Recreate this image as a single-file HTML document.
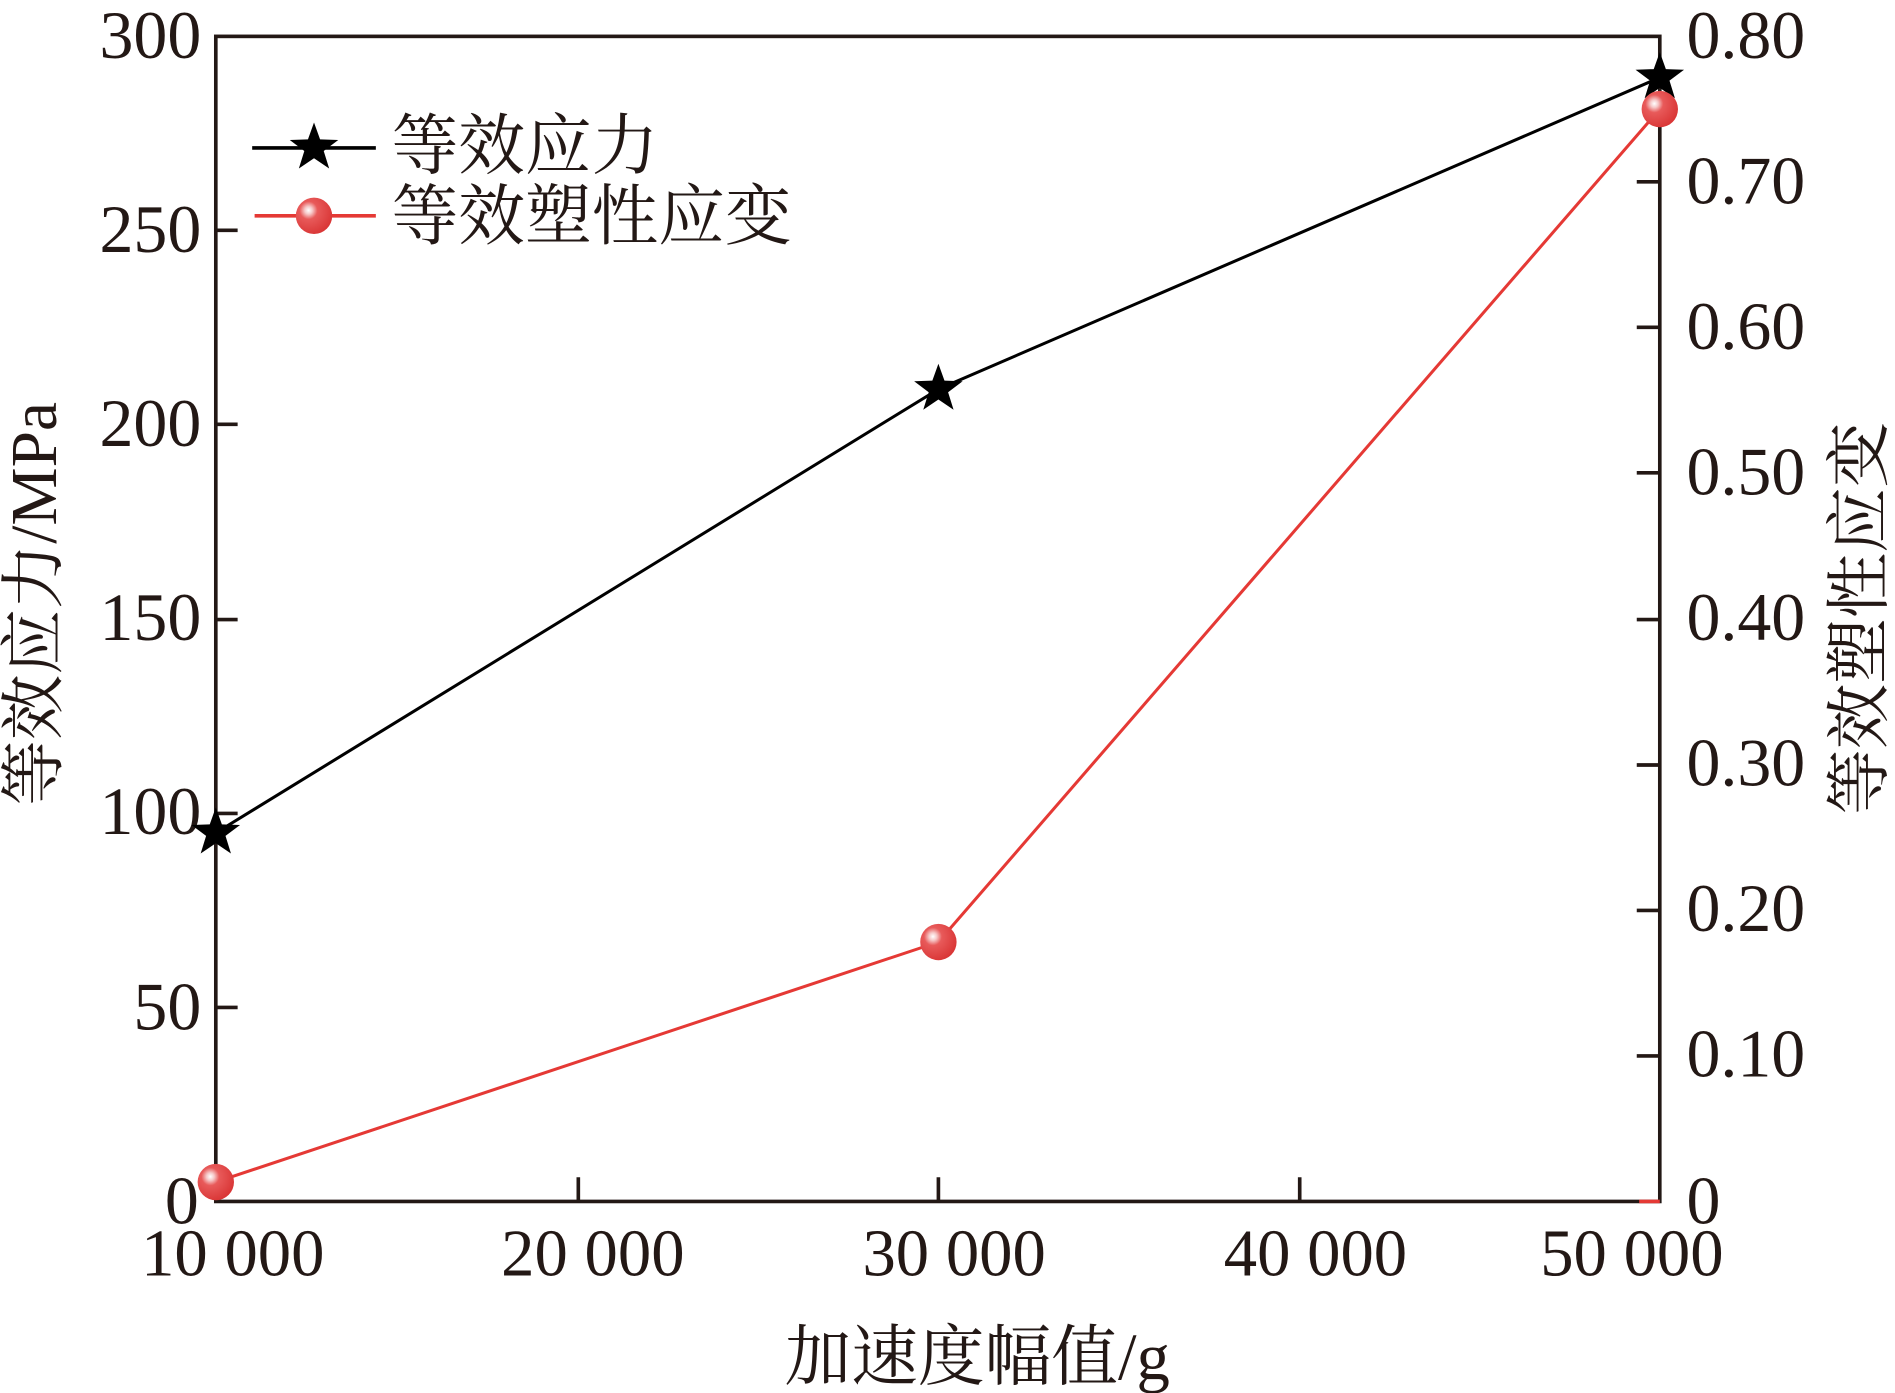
<!DOCTYPE html>
<html><head><meta charset="utf-8"><style>
html,body{margin:0;padding:0;background:#fff;}
svg{display:block;}
text{font-family:"Liberation Serif","Noto Serif CJK SC",serif;fill:#231815;}
</style></head><body>
<svg width="1895" height="1393" viewBox="0 0 1563 1149" preserveAspectRatio="none" xmlns="http://www.w3.org/2000/svg">
<defs>
<radialGradient id="g" cx="0.35" cy="0.35" r="0.7">
<stop offset="0" stop-color="#fff"/>
<stop offset="0.15" stop-color="#f6c9c9"/>
<stop offset="0.35" stop-color="#e85a5a"/>
<stop offset="1" stop-color="#d93535"/>
</radialGradient>
<polygon id="star" points="0,-21 5,-7 20,-6.5 8,2.5 12.5,17 0,8.5 -12.5,17 -8,2.5 -20,-6.5 -5,-7" fill="#000"/>
</defs>
<g stroke="#231815" stroke-width="3" fill="none">
<rect x="178" y="30" width="1191" height="961"/>
<path d="M178 831h18M178 671h18M178 511h18M178 350h18M178 190h18"/>
<path d="M477 991v-20M774 991v-20M1072 991v-20"/>
<path d="M1369 871h-19M1369 751h-19M1369 631h-19M1369 511h-19M1369 390h-19M1369 270h-19M1369 150h-19"/>
</g>
<path d="M1352 991h17" stroke="#e53935" stroke-width="3"/>
<g font-size="56" text-anchor="end">
<text x="166" y="48">300</text>
<text x="166" y="208">250</text>
<text x="166" y="368">200</text>
<text x="166" y="528">150</text>
<text x="166" y="688">100</text>
<text x="166" y="849">50</text>
<text x="164" y="1009">0</text>
</g>
<g font-size="56">
<text x="1391" y="48">0.80</text>
<text x="1391" y="168">0.70</text>
<text x="1391" y="288">0.60</text>
<text x="1391" y="408">0.50</text>
<text x="1391" y="528">0.40</text>
<text x="1391" y="648">0.30</text>
<text x="1391" y="768">0.20</text>
<text x="1391" y="888">0.10</text>
<text x="1391" y="1009">0</text>
</g>
<g font-size="55" text-anchor="middle">
<text x="192" y="1052">10 000</text>
<text x="489" y="1052">20 000</text>
<text x="787" y="1052">30 000</text>
<text x="1085" y="1052">40 000</text>
<text x="1346" y="1052">50 000</text>
</g>
<text x="806" y="1138" font-size="55" text-anchor="middle">加速度幅值/g</text>
<text transform="translate(46,498) rotate(-90)" font-size="54" text-anchor="middle">等效应力/MPa</text>
<text transform="translate(1552,510) rotate(-90)" font-size="54" text-anchor="middle">等效塑性应变</text>
<polyline points="178,687 774,321 1369,64" fill="none" stroke="#000" stroke-width="2.5"/>
<polyline points="178,975 774,777 1369,90" fill="none" stroke="#e53935" stroke-width="2.5"/>
<use href="#star" x="178" y="687"/>
<use href="#star" x="774" y="321"/>
<use href="#star" x="1369" y="64"/>
<circle cx="178" cy="975" r="15" fill="url(#g)"/>
<circle cx="774" cy="777" r="15" fill="url(#g)"/>
<circle cx="1369" cy="90" r="15" fill="url(#g)"/>
<path d="M208 122h102" stroke="#000" stroke-width="3"/>
<use href="#star" x="259" y="122"/>
<path d="M210 178h100" stroke="#e53935" stroke-width="3"/>
<circle cx="259" cy="178" r="15" fill="url(#g)"/>
<text x="323" y="139" font-size="55">等效应力</text>
<text x="323" y="197" font-size="55">等效塑性应变</text>
</svg>
</body></html>
